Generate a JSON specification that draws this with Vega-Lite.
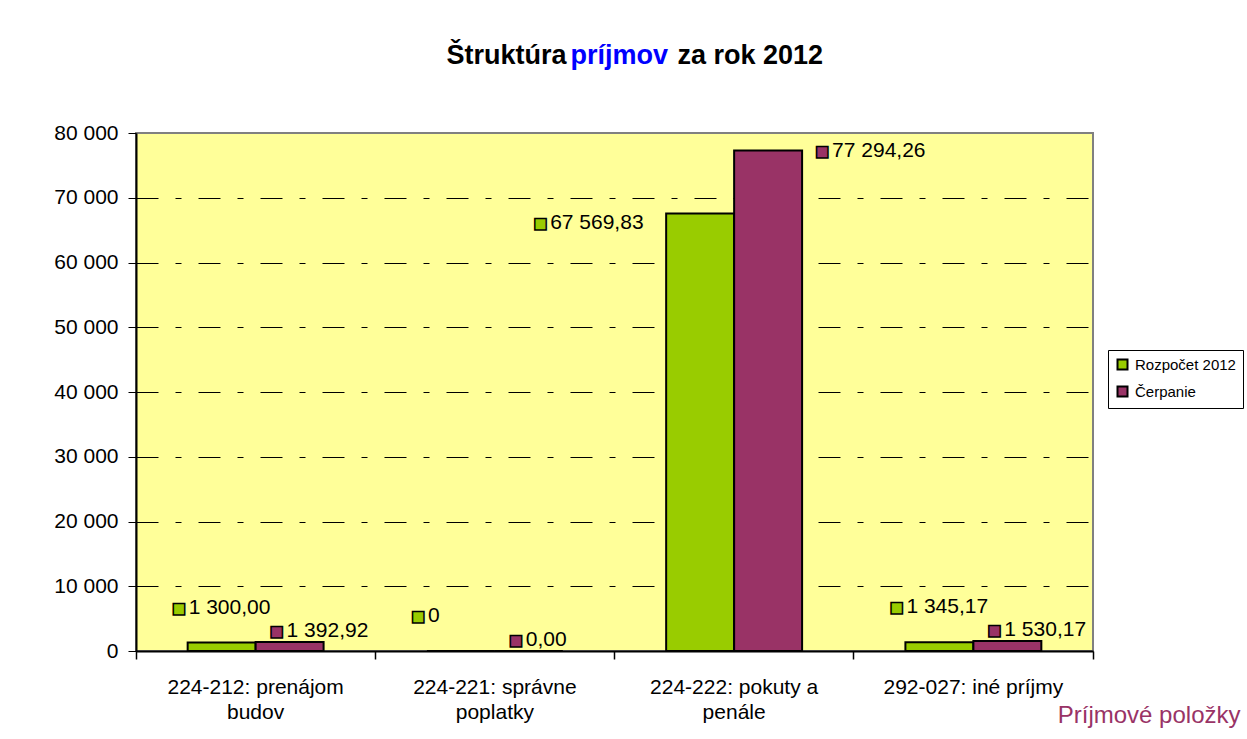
{
  "$schema": "https://vega.github.io/schema/vega-lite/v6.json",
  "width": 957,
  "height": 518,
  "autosize": {"type": "none"},
  "padding": {"left": 136, "top": 133, "right": 154, "bottom": 88},
  "background": "white",
  "config": {
    "font": "Liberation Sans",
    "view": {"fill": "#FFFF99", "stroke": "#808080", "strokeWidth": 2}
  },
  "data": {
    "values": [
      {"category": "224-212: prenájom budov", "series": "Rozpočet 2012", "value": 1300, "label": "1 300,00"},
      {"category": "224-212: prenájom budov", "series": "Čerpanie", "value": 1392.92, "label": "1 392,92"},
      {"category": "224-221:  správne poplatky", "series": "Rozpočet 2012", "value": 0, "label": "0"},
      {"category": "224-221:  správne poplatky", "series": "Čerpanie", "value": 0, "label": "0,00"},
      {"category": "224-222:  pokuty a penále", "series": "Rozpočet 2012", "value": 67569.83, "label": "67 569,83"},
      {"category": "224-222:  pokuty a penále", "series": "Čerpanie", "value": 77294.26, "label": "77 294,26"},
      {"category": "292-027: iné príjmy", "series": "Rozpočet 2012", "value": 1345.17, "label": "1 345,17"},
      {"category": "292-027: iné príjmy", "series": "Čerpanie", "value": 1530.17, "label": "1 530,17"}
    ]
  },
  "resolve": {"axis": {"x": "independent", "y": "independent"}},
  "layer": [
    {
      "mark": {"type": "bar", "stroke": "black", "strokeWidth": 2},
      "encoding": {
        "x": {
          "field": "category", "type": "nominal", "sort": null,
          "scale": {"paddingInner": 0, "paddingOuter": 0},
          "axis": {
            "orient": "bottom",
            "labelAngle": 0,
            "labelFontSize": 21,
            "labelColor": "black",
            "labelLineHeight": 25,
            "labelPadding": 25,
            "labelLimit": 0,
            "labelExpr": "datum.label == '224-212: prenájom budov' ? ['224-212: prenájom', 'budov'] : datum.label == '224-221:  správne poplatky' ? ['224-221:  správne', 'poplatky'] : datum.label == '224-222:  pokuty a penále' ? ['224-222:  pokuty a', 'penále'] : datum.label",
            "ticks": false,
            "tickSize": 0,
            "domainColor": "black",
            "domainWidth": 2,
            "grid": false,
            "title": "Príjmové položky",
            "titleX": 1104,
            "titleY": 71,
            "titleAlign": "right",
            "titleBaseline": "alphabetic",
            "titleFontSize": 24,
            "titleFontWeight": "normal",
            "titleColor": "#993366"
          }
        },
        "xOffset": {
          "field": "series", "type": "nominal", "sort": ["Rozpočet 2012", "Čerpanie"],
          "scale": {"paddingInner": 0, "paddingOuter": 0.76}
        },
        "y": {
          "field": "value", "type": "quantitative",
          "scale": {"domain": [0, 80000], "nice": false},
          "axis": {
            "orient": "left",
            "values": [0, 10000, 20000, 30000, 40000, 50000, 60000, 70000, 80000],
            "labelExpr": "replace(format(datum.value, ','), ',', ' ')",
            "labelFontSize": 21,
            "labelColor": "black",
            "labelPadding": 10,
            "tickSize": 8,
            "tickColor": "black",
            "domainColor": "black",
            "domainWidth": 2,
            "grid": true,
            "gridColor": "black",
            "gridWidth": 1,
            "gridDash": [22, 17, 6, 17],
            "gridOpacity": {"condition": {"test": "datum.value == 0 || datum.value == 80000", "value": 0}, "value": 1},
            "title": "Štruktúra",
            "titleAngle": 0,
            "titleX": 310,
            "titleY": -70,
            "titleAlign": "left",
            "titleBaseline": "alphabetic",
            "titleFontSize": 27,
            "titleFontWeight": "bold",
            "titleColor": "black"
          }
        },
        "color": {
          "field": "series", "type": "nominal",
          "scale": {"domain": ["Rozpočet 2012", "Čerpanie"], "range": ["#99CC00", "#993366"]},
          "legend": {
            "orient": "none",
            "legendX": 972,
            "legendY": 217,
            "title": null,
            "labelFontSize": 15,
            "labelColor": "black",
            "labelOffset": 5,
            "symbolType": "square",
            "symbolSize": 100,
            "symbolStrokeColor": "black",
            "symbolStrokeWidth": 2,
            "strokeColor": "black",
            "fillColor": "white",
            "padding": 7,
            "rowPadding": 8
          }
        }
      }
    },
    {
      "mark": {
        "type": "text", "align": "left", "baseline": "middle", "fontSize": 21, "color": "black",
        "dx": {"expr": "datum.series == 'Čerpanie' ? (datum.value > 10000 ? 64 : -3) : (datum.value > 10000 ? -150 : -33)"},
        "dy": {"expr": "datum.series == 'Čerpanie' ? (datum.value > 10000 ? 0 : -11) : (datum.value > 10000 ? 10 : -35)"}
      },
      "encoding": {
        "x": {
          "field": "category", "type": "nominal", "sort": null,
          "axis": {
            "orient": "top", "labels": false, "ticks": false, "domain": false, "grid": false,
            "title": "príjmov",
            "titleX": 434, "titleY": -70, "titleAlign": "left", "titleBaseline": "alphabetic",
            "titleFontSize": 27, "titleFontWeight": "bold", "titleColor": "#0000FF"
          }
        },
        "xOffset": {"field": "series", "type": "nominal", "sort": ["Rozpočet 2012", "Čerpanie"]},
        "y": {
          "field": "value", "type": "quantitative",
          "axis": {
            "orient": "right", "labels": false, "ticks": false, "domain": false, "grid": false,
            "title": "za rok 2012",
            "titleAngle": 0,
            "titleX": -416, "titleY": -70, "titleAlign": "left", "titleBaseline": "alphabetic",
            "titleFontSize": 27, "titleFontWeight": "bold", "titleColor": "black"
          }
        },
        "text": {"field": "label"}
      }
    },
    {
      "mark": {
        "type": "text", "align": "left", "baseline": "middle", "font": "DejaVu Sans", "fontSize": 15,
        "stroke": "black", "strokeWidth": 1.5, "text": "■",
        "dx": {"expr": "datum.series == 'Čerpanie' ? (datum.value > 10000 ? 47 : -20) : (datum.value > 10000 ? -167 : -50)"},
        "dy": {"expr": "datum.series == 'Čerpanie' ? (datum.value > 10000 ? 0 : -11) : (datum.value > 10000 ? 10 : -35)"}
      },
      "encoding": {
        "x": {
          "field": "category", "type": "nominal", "sort": null,
          "axis": {
            "orient": "bottom", "labels": false, "domain": false, "grid": false, "title": null,
            "ticks": true, "tickSize": 8, "tickColor": "black", "tickWidth": 1.5,
            "bandPosition": 1, "tickExtra": true
          }
        },
        "xOffset": {"field": "series", "type": "nominal", "sort": ["Rozpočet 2012", "Čerpanie"]},
        "y": {"field": "value", "type": "quantitative", "axis": null},
        "color": {"field": "series", "type": "nominal", "legend": null}
      }
    }
  ]
}
